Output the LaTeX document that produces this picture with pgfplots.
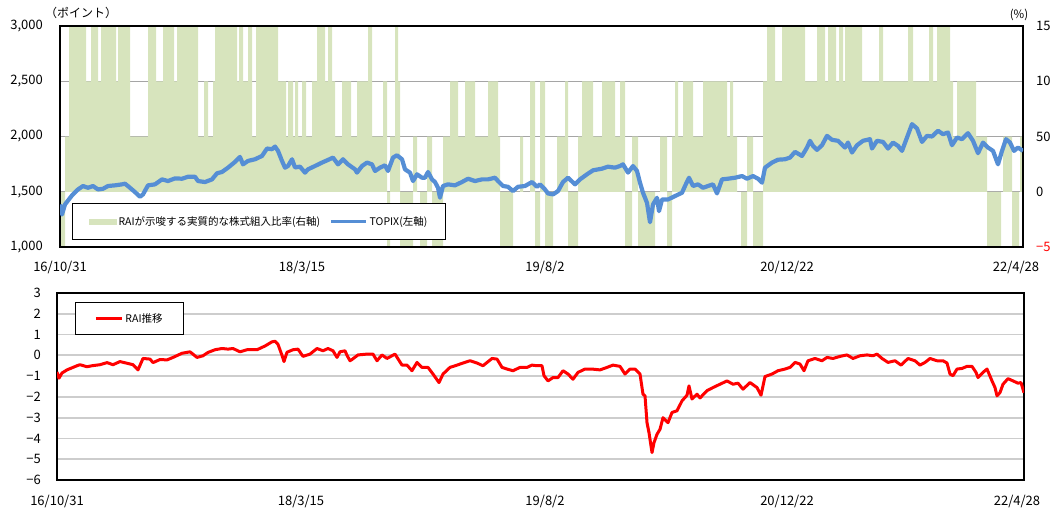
\documentclass[border=0pt]{standalone}
\usepackage{fontspec}
\setmainfont{Noto Sans CJK JP}
\usepackage{pgfplots}
\pgfplotsset{compat=1.18}
\definecolor{rgreen}{RGB}{215,228,189}
\definecolor{rblue}{RGB}{85,142,213}
\definecolor{gridg}{RGB}{165,165,165}
\definecolor{gridl}{RGB}{205,205,205}

\pgfplotstableread{
x y
60 -50
65 50
69 150
86 100
91 150
98 100
101 150
116 100
118 150
130 50
148 150
156 100
163 150
174 100
177 150
198 50
204 100
208 50
213 100
215 150
237 100
239 150
243 100
248 150
252 50
256 150
278 100
286 50
288 100
293 50
295 100
298 50
302 100
306 50
312 100
317 150
325 100
328 150
332 100
335 50
342 100
351 50
357 100
368 150
372 50
383 100
387 -50
390 50
395 150
398 100
400 -50
413 50
417 0
420 -50
427 50
432 -50
443 50
450 100
458 50
465 100
475 50
488 100
498 50
500 -50
513 0
520 50
523 0
530 100
535 -50
540 100
545 -50
553 0
557 50
565 100
568 -50
578 50
582 100
593 50
602 100
615 50
620 100
625 -50
632 50
638 -50
655 0
660 50
667 -50
672 50
675 100
678 50
683 100
693 50
703 100
727 50
730 100
733 50
737 0
741 -50
747 50
753 -50
763 100
767 150
775 100
782 150
805 100
817 150
825 100
828 150
836 100
839 150
843 100
845 150
862 100
879 150
883 100
908 150
913 100
929 150
933 100
937 150
950 100
953 50
957 100
976 50
987 -50
1001 0
1003 50
1012 -50
1019 0
1020 50
1022 -50
1023 -50
}\ratio

\pgfplotstableread{
x y
60 1385
62 1294
65 1385
72 1467
78 1521
83 1552
88 1536
93 1552
98 1521
103 1527
108 1552
115 1558
122 1567
125 1573
130 1536
135 1497
140 1455
143 1476
148 1558
155 1567
162 1612
168 1597
175 1621
182 1618
188 1636
195 1636
198 1597
205 1588
212 1612
217 1667
222 1679
228 1718
235 1770
240 1815
243 1748
248 1779
255 1794
262 1824
267 1891
272 1885
275 1909
278 1870
282 1779
285 1718
288 1733
292 1794
295 1720
300 1727
305 1673
308 1703
315 1733
322 1764
328 1788
333 1809
338 1748
343 1794
348 1748
355 1703
357 1673
362 1733
367 1764
372 1748
375 1688
380 1718
385 1739
388 1688
393 1809
397 1830
402 1794
405 1703
410 1673
413 1597
417 1658
422 1627
425 1627
428 1679
432 1612
435 1588
438 1536
440 1446
443 1552
448 1567
455 1558
462 1588
468 1618
475 1597
482 1612
488 1612
495 1627
498 1597
503 1552
508 1545
513 1506
518 1545
525 1552
532 1588
537 1545
540 1567
545 1521
548 1485
553 1476
558 1506
563 1588
568 1627
575 1567
580 1612
587 1658
593 1694
602 1709
608 1727
615 1718
620 1733
623 1748
628 1673
633 1733
637 1688
640 1582
643 1491
647 1400
650 1224
653 1385
657 1446
659 1324
662 1430
668 1430
675 1461
682 1491
685 1552
689 1627
693 1552
698 1567
703 1536
708 1552
713 1567
717 1485
722 1612
728 1618
735 1627
742 1642
747 1618
753 1642
758 1618
762 1582
765 1718
772 1764
778 1790
785 1794
790 1809
795 1861
802 1824
807 1900
810 1961
813 1915
817 1879
822 1921
827 2006
832 1970
838 1961
845 1900
848 1945
852 1855
857 1921
863 1961
870 1976
872 1891
877 1961
883 1951
888 1891
893 1945
898 1915
902 1870
907 1991
912 2112
917 2073
922 1951
927 2006
932 2000
938 2052
943 2021
948 2036
952 1921
957 1991
962 1976
968 2030
973 1961
978 1849
983 1945
988 1900
993 1870
998 1748
1002 1870
1006 1976
1010 1945
1014 1870
1018 1900
1023 1870
}\topix

\pgfplotstableread{
x y
57 -0.8
59 -1.1
62 -0.85
67 -0.7
72 -0.6
77 -0.5
80 -0.45
87 -0.55
92 -0.5
100 -0.45
107 -0.35
113 -0.45
120 -0.3
127 -0.38
133 -0.45
138 -0.7
143 -0.15
150 -0.18
153 -0.35
160 -0.2
167 -0.22
173 -0.1
182 0.1
190 0.17
197 -0.1
203 -0.02
208 0.14
215 0.27
222 0.33
228 0.3
233 0.33
240 0.17
247 0.27
257 0.27
265 0.45
272 0.65
275 0.68
278 0.53
282 0.0
284 -0.3
287 0.15
293 0.27
298 0.3
303 -0.05
310 0.06
317 0.33
323 0.22
328 0.33
333 0.22
337 -0.1
340 0.17
345 0.22
347 0.0
350 -0.26
352 -0.2
358 0.02
367 0.06
373 0.06
377 -0.26
382 0.02
387 -0.15
395 0.06
402 -0.47
407 -0.47
412 -0.74
417 -0.34
422 -0.58
428 -0.58
433 -0.9
439 -1.31
443 -0.9
450 -0.58
457 -0.47
463 -0.37
470 -0.26
477 -0.37
483 -0.5
492 -0.15
497 -0.18
502 -0.58
507 -0.66
513 -0.74
520 -0.58
527 -0.58
532 -0.47
537 -0.5
542 -0.5
544 -0.98
548 -1.23
553 -1.07
558 -1.07
563 -0.74
568 -0.9
573 -1.15
578 -0.82
585 -0.66
592 -0.66
600 -0.7
607 -0.58
613 -0.47
620 -0.53
625 -0.9
630 -0.66
635 -0.66
640 -0.9
643 -1.87
645 -1.95
647 -3.24
649 -3.72
652 -4.68
654 -4.2
657 -3.8
660 -3.56
663 -3.0
668 -3.24
672 -2.75
677 -2.67
682 -2.19
687 -1.92
689 -1.47
692 -2.1
697 -1.87
700 -2.05
707 -1.7
713 -1.55
720 -1.39
727 -1.23
733 -1.39
738 -1.34
743 -1.63
750 -1.31
757 -1.55
761 -1.92
765 -1.02
772 -0.9
778 -0.74
785 -0.66
790 -0.58
795 -0.34
800 -0.42
804 -0.74
808 -0.26
815 -0.15
822 -0.26
827 -0.1
833 -0.15
840 -0.05
847 0.02
853 -0.15
860 -0.02
867 0.02
873 -0.02
877 0.06
882 -0.15
888 -0.34
895 -0.26
901 -0.47
908 -0.15
915 -0.26
920 -0.47
925 -0.34
930 -0.15
937 -0.26
943 -0.26
947 -0.37
950 -0.9
953 -0.98
957 -0.66
962 -0.63
967 -0.53
972 -0.53
976 -0.82
978 -1.07
983 -0.82
987 -0.66
992 -1.23
995 -1.55
997 -1.95
1000 -1.79
1003 -1.39
1008 -1.12
1013 -1.23
1018 -1.34
1021 -1.31
1024 -1.8
}\rai

\begin{document}
\begin{tikzpicture}[x=1pt,y=1pt]
% ---- top panel, right axis with ratio area
\begin{axis}[
  at={(60pt,-247pt)}, anchor=south west, scale only axis,
  width=963pt, height=221pt,
  xmin=60, xmax=1023, ymin=-50, ymax=150,
  xtick=\empty,
  ytick={-50,0,50,100,150},
  yticklabels={\textcolor{red}{−50},0,50,100,150},
  yticklabel pos=right,
  yticklabel style={anchor=west, inner sep=0pt, xshift=13pt},
  tick label style={font=\fontsize{13}{15}\selectfont},
  major tick length=0pt,
  ymajorgrids, grid style={gridg, line width=1.3pt},
  axis line style={draw=none},
]
\addplot[const plot, fill=rgreen, draw=none] table[x=x,y=y] {\ratio} \closedcycle;
\end{axis}
% ---- top panel, left axis with TOPIX
\begin{axis}[
  at={(60pt,-247pt)}, anchor=south west, scale only axis,
  width=963pt, height=221pt,
  xmin=60, xmax=1023, ymin=1000, ymax=3000,
  ytick={1000,1500,2000,2500,3000},
  yticklabels={{1,000},{1,500},{2,000},{2,500},{3,000}},
  yticklabel style={anchor=east, inner sep=0pt, xshift=-17pt},
  xtick={60,302,545,787,1016},
  xticklabels={16/10/31,18/3/15,19/8/2,20/12/22,22/4/28},
  xticklabel style={anchor=base, inner sep=0pt, yshift=-24.5pt},
  tick label style={font=\fontsize{13}{15}\selectfont},
  major tick length=0pt,
  axis line style={line width=1.2pt, black},
  legend columns=2,
  legend cell align=left,
  legend style={at={(0.0125,0.199)}, anchor=north west, draw=black, line width=1pt,
    fill=white, inner xsep=16pt, inner ysep=11pt,
    font=\fontsize{10.5}{12.5}\selectfont,
    /tikz/every even column/.append style={column sep=7pt}},
]
\addlegendimage{legend image code/.code={\fill[rgreen] (0pt,-2.5pt) rectangle (27pt,2.5pt);}}
\addlegendentry{RAIが示唆する実質的な株式組入比率(右軸)}
\addplot[rblue, line width=4.2pt, line join=round,
  legend image code/.code={\draw[rblue, line width=3.5pt] (0pt,0pt) -- (35pt,0pt);}]
  table[x=x,y=y] {\topix};
\addlegendentry{TOPIX(左軸)}
\end{axis}
% ---- bottom panel
\begin{axis}[
  at={(57pt,-480pt)}, anchor=south west, scale only axis,
  width=967pt, height=187pt,
  xmin=57, xmax=1024, ymin=-6, ymax=3,
  ytick={-6,-5,-4,-3,-2,-1,0,1,2,3},
  yticklabels={−6,−5,−4,−3,−2,−1,0,1,2,3},
  yticklabel style={anchor=east, inner sep=0pt, xshift=-16pt},
  xtick={57,301,545,787,1017},
  xticklabels={16/10/31,18/3/15,19/8/2,20/12/22,22/4/28},
  xticklabel style={anchor=base, inner sep=0pt, yshift=-25.5pt},
  tick label style={font=\fontsize{13}{15}\selectfont},
  major tick length=0pt,
  ymajorgrids, grid style={gridl, line width=1.8pt},
  axis line style={line width=1.2pt, black},
  legend style={at={(0.0186,0.952)}, anchor=north west, draw=black, line width=1pt,
    fill=white, inner xsep=19pt, inner ysep=9pt,
    font=\fontsize{10.5}{12.5}\selectfont},
]
\addplot[red, line width=3pt, line join=round,
  legend image code/.code={\draw[red, line width=3pt] (0pt,0pt) -- (26pt,0pt);}]
  table[x=x,y=y] {\rai};
\addlegendentry{RAI推移}
\end{axis}
\node[font=\fontsize{12}{14}\selectfont] at (81pt,-13pt) {（ポイント）};
\node[font=\fontsize{11.5}{13}\selectfont] at (1019pt,-15pt) {(\%)};
\pgfresetboundingbox
\useasboundingbox (0pt,0pt) rectangle (1050pt,-512pt);
\end{tikzpicture}
\end{document}
